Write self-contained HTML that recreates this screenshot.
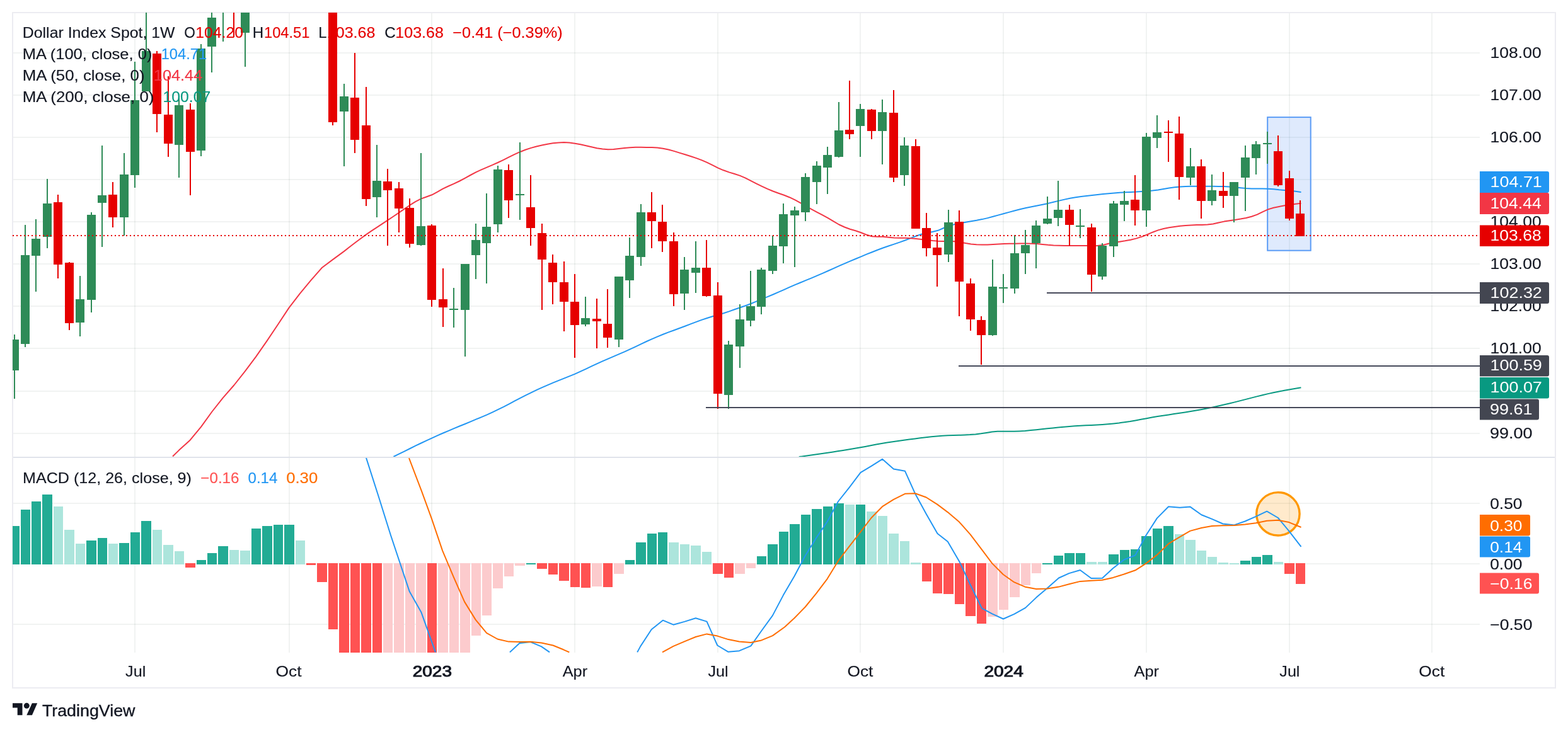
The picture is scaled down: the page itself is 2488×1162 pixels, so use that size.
<!DOCTYPE html>
<html lang="en"><head><meta charset="utf-8"><title>Dollar Index Spot, 1W</title><style>html,body{margin:0;padding:0;background:#fff;width:2488px;height:1162px}svg{display:block}</style></head>
<body>
<svg width="2488" height="1162" viewBox="0 0 2488 1162" font-family="'Liberation Sans', sans-serif" font-size="24">
<defs><clipPath id="p1"><rect x="20" y="20" width="2328" height="705"/></clipPath><clipPath id="p2"><rect x="20" y="727" width="2328" height="309"/></clipPath><clipPath id="ax1"><rect x="2348" y="21" width="119" height="704"/></clipPath></defs>
<rect x="0" y="0" width="2488" height="1162" fill="#ffffff" />
<g shape-rendering="crispEdges">
<rect x="21" y="83" width="2327" height="2" fill="rgba(0,40,20,0.055)" />
<rect x="21" y="150" width="2327" height="2" fill="rgba(0,40,20,0.055)" />
<rect x="21" y="217" width="2327" height="2" fill="rgba(0,40,20,0.055)" />
<rect x="21" y="284" width="2327" height="2" fill="rgba(0,40,20,0.055)" />
<rect x="21" y="351" width="2327" height="2" fill="rgba(0,40,20,0.055)" />
<rect x="21" y="418" width="2327" height="2" fill="rgba(0,40,20,0.055)" />
<rect x="21" y="485" width="2327" height="2" fill="rgba(0,40,20,0.055)" />
<rect x="21" y="552" width="2327" height="2" fill="rgba(0,40,20,0.055)" />
<rect x="21" y="620" width="2327" height="2" fill="rgba(0,40,20,0.055)" />
<rect x="21" y="687" width="2327" height="2" fill="rgba(0,40,20,0.055)" />
<rect x="21" y="798" width="2327" height="2" fill="rgba(0,40,20,0.055)" />
<rect x="21" y="894" width="2327" height="2" fill="rgba(0,40,20,0.055)" />
<rect x="21" y="990" width="2327" height="2" fill="rgba(0,40,20,0.055)" />
<rect x="213" y="21" width="2" height="1015" fill="rgba(0,40,20,0.055)" />
<rect x="458" y="21" width="2" height="1015" fill="rgba(0,40,20,0.055)" />
<rect x="684" y="21" width="2" height="1015" fill="rgba(0,40,20,0.055)" />
<rect x="911" y="21" width="2" height="1015" fill="rgba(0,40,20,0.055)" />
<rect x="1138" y="21" width="2" height="1015" fill="rgba(0,40,20,0.055)" />
<rect x="1364" y="21" width="2" height="1015" fill="rgba(0,40,20,0.055)" />
<rect x="1591" y="21" width="2" height="1015" fill="rgba(0,40,20,0.055)" />
<rect x="1818" y="21" width="2" height="1015" fill="rgba(0,40,20,0.055)" />
<rect x="2045" y="21" width="2" height="1015" fill="rgba(0,40,20,0.055)" />
<rect x="2271" y="21" width="2" height="1015" fill="rgba(0,40,20,0.055)" />
<rect x="20" y="725" width="2447" height="2" fill="#e0e3eb" />
<rect x="19" y="19" width="2450" height="2" fill="#ececf1" />
<rect x="19" y="1091" width="2450" height="2" fill="#ececf1" />
<rect x="19" y="19" width="2" height="1074" fill="#ececf1" />
<rect x="2467" y="19" width="2" height="1074" fill="#ececf1" />
</g>
<g clip-path="url(#p1)">
<rect x="2011.2" y="186.1" width="68.5" height="211.6" fill="rgba(66,133,244,0.17)" stroke="#5b9cf6" stroke-width="2"/>
<polyline points="1267.7,725.2 1276.5,724.0 1285.2,722.8 1294.0,721.5 1302.7,720.3 1311.5,719.0 1320.2,717.7 1329.0,716.3 1337.7,714.9 1346.5,713.5 1355.2,712.0 1364.0,710.5 1372.8,708.9 1381.5,707.2 1390.3,705.6 1399.0,704.1 1407.8,702.6 1416.5,701.3 1425.3,700.0 1434.0,698.7 1442.8,697.6 1451.6,696.4 1460.3,695.3 1469.1,694.3 1477.8,693.3 1486.6,692.5 1495.3,691.8 1504.1,691.3 1512.8,691.0 1521.6,690.8 1530.3,690.5 1539.1,690.1 1547.9,689.4 1556.6,688.3 1565.4,686.9 1574.1,685.6 1582.9,684.8 1591.6,684.7 1600.4,684.8 1609.1,684.8 1617.9,684.4 1626.7,683.9 1635.4,683.1 1644.2,682.2 1652.9,681.2 1661.7,680.3 1670.4,679.4 1679.2,678.5 1687.9,677.7 1696.7,677.0 1705.4,676.3 1714.2,675.8 1723.0,675.3 1731.7,674.9 1740.5,674.4 1749.2,673.9 1758.0,673.2 1766.7,672.4 1775.5,671.4 1784.2,670.2 1793.0,668.9 1801.8,667.4 1810.5,665.8 1819.3,664.2 1828.0,662.6 1836.8,661.1 1845.5,659.8 1854.3,658.4 1863.0,657.1 1871.8,655.8 1880.5,654.4 1889.3,652.9 1898.1,651.4 1906.8,649.9 1915.6,648.2 1924.3,646.4 1933.1,644.5 1941.8,642.6 1950.6,640.5 1959.3,638.4 1968.1,636.1 1976.9,633.9 1985.6,631.6 1994.4,629.4 2003.1,627.2 2011.9,625.1 2020.6,623.2 2029.4,621.5 2038.1,619.8 2046.9,618.3 2055.6,616.8 2064.4,615.3" fill="none" stroke="#089981" stroke-width="2" stroke-linejoin="round" stroke-linecap="butt" />
<polyline points="624.4,725.0 633.1,720.6 641.9,716.3 650.6,712.0 659.3,707.7 668.0,703.5 676.8,699.4 685.5,695.3 694.2,691.4 703.0,687.5 711.7,683.8 720.4,680.1 729.1,676.5 737.9,673.0 746.6,669.4 755.3,665.7 764.0,662.1 772.8,658.3 781.5,654.3 790.2,650.2 799.0,645.9 807.7,641.4 816.4,636.7 825.1,632.1 833.9,627.6 842.6,623.3 851.3,619.2 860.1,615.2 868.8,611.4 877.5,607.7 886.2,604.1 895.0,600.6 903.7,597.1 912.4,593.6 921.1,589.7 929.9,585.6 938.6,581.4 947.3,577.3 956.1,573.4 964.8,569.6 973.5,565.9 982.2,562.2 991.0,558.4 999.7,554.4 1008.4,550.3 1017.2,546.1 1025.9,542.0 1034.6,538.1 1043.3,534.4 1052.1,530.8 1060.8,527.4 1069.5,524.2 1078.2,521.0 1087.0,517.7 1095.7,514.4 1104.4,511.1 1113.2,507.9 1121.9,505.0 1130.6,502.3 1139.3,499.8 1148.1,497.2 1156.8,494.4 1165.5,491.3 1174.3,488.2 1183.0,485.2 1191.7,482.0 1200.4,478.4 1209.2,474.7 1217.9,471.1 1226.6,467.5 1235.4,463.7 1244.1,459.8 1252.8,455.9 1261.5,452.1 1270.3,448.5 1279.0,444.9 1287.7,441.3 1296.4,437.7 1305.2,433.9 1313.9,430.0 1322.6,426.1 1331.4,422.2 1340.1,418.4 1348.8,414.7 1357.5,411.0 1366.3,407.4 1375.0,403.7 1383.7,400.2 1392.5,396.7 1401.2,393.5 1409.9,390.5 1418.6,387.6 1427.4,384.6 1436.1,381.5 1444.8,378.1 1453.5,374.7 1462.3,371.8 1471.0,369.6 1479.7,368.0 1488.5,365.8 1497.2,362.0 1505.9,358.6 1514.6,356.1 1523.4,354.3 1532.1,352.8 1540.8,351.3 1549.6,349.8 1558.3,348.1 1567.0,346.1 1575.7,343.8 1584.5,341.4 1593.2,339.0 1601.9,336.6 1610.7,334.2 1619.4,332.0 1628.1,330.0 1636.8,328.2 1645.6,326.5 1654.3,324.8 1663.0,322.9 1671.7,320.7 1680.5,318.6 1689.2,316.6 1697.9,314.8 1706.7,313.3 1715.4,312.0 1724.1,311.0 1732.8,310.0 1741.6,309.1 1750.3,308.1 1759.0,307.2 1767.8,306.4 1776.5,305.8 1785.2,305.2 1793.9,304.9 1802.7,304.6 1811.4,304.1 1820.1,303.5 1828.8,302.6 1837.6,301.4 1846.3,299.9 1855.0,298.4 1863.8,297.3 1872.5,296.5 1881.2,296.0 1889.9,295.8 1898.7,295.7 1907.4,295.7 1916.1,295.8 1924.9,295.8 1933.6,295.9 1942.3,296.0 1951.0,296.4 1959.8,297.2 1968.5,298.2 1977.2,299.1 1985.9,299.5 1994.7,299.6 2003.4,299.5 2012.1,299.7 2020.9,300.3 2029.6,301.2 2038.3,301.9 2047.0,302.7 2055.8,303.8 2064.5,305.0" fill="none" stroke="#2196f3" stroke-width="2" stroke-linejoin="round" stroke-linecap="butt" />
<polyline points="274.0,724.5 284.1,714.6 301.6,698.7 319.0,677.7 336.4,653.5 353.9,631.4 371.3,611.5 388.8,589.4 406.2,566.1 423.6,541.1 441.1,515.0 458.5,488.6 476.0,465.9 493.4,444.9 510.8,425.0 528.3,411.9 545.7,399.1 554.4,392.3 563.2,385.5 571.9,379.0 580.6,372.6 589.3,366.6 598.1,360.8 606.8,355.1 615.5,349.4 624.3,343.5 633.0,337.6 641.7,331.7 650.4,325.7 659.2,320.1 667.9,315.6 676.6,312.5 685.4,309.3 694.1,304.6 702.8,299.6 711.5,295.5 720.3,291.7 729.0,287.5 737.7,282.8 746.5,278.0 755.2,273.4 763.9,269.3 772.6,265.6 781.4,261.9 790.1,258.0 798.8,253.8 807.6,249.4 816.3,245.1 825.0,241.2 833.7,237.8 842.5,234.9 851.2,232.5 859.9,230.5 868.7,228.7 877.4,227.3 886.1,226.4 894.8,226.1 903.6,226.6 912.3,227.7 921.0,229.3 929.8,231.2 938.5,233.3 947.2,235.2 956.0,236.6 964.7,237.2 973.4,237.0 982.1,236.1 990.9,235.1 999.6,234.2 1008.3,233.8 1017.1,233.8 1025.8,233.9 1034.5,234.1 1043.2,234.6 1052.0,235.7 1060.7,237.5 1069.4,239.9 1078.2,242.6 1086.9,245.3 1095.6,248.0 1104.3,250.9 1113.1,254.1 1121.8,257.9 1130.5,262.2 1139.3,266.6 1148.0,270.3 1156.7,273.4 1165.4,276.0 1174.2,278.9 1182.9,282.7 1191.6,287.1 1200.4,291.6 1209.1,295.8 1217.8,299.9 1226.5,303.5 1235.3,306.7 1244.0,309.8 1252.7,313.2 1261.5,317.3 1270.2,322.1 1278.9,327.3 1287.6,332.2 1296.4,336.9 1305.1,341.4 1313.8,346.2 1322.6,351.4 1331.3,356.5 1340.0,360.5 1348.7,363.7 1357.5,366.3 1366.2,369.3 1374.9,372.8 1383.7,375.3 1392.4,375.8 1401.1,375.8 1409.8,376.7 1418.6,377.5 1427.3,377.7 1436.0,377.7 1444.8,378.2 1453.5,379.0 1462.2,379.9 1470.9,381.0 1479.7,382.1 1488.4,382.8 1497.1,382.9 1505.9,382.8 1514.6,383.2 1523.3,384.5 1532.0,386.1 1540.8,387.5 1549.5,388.3 1558.2,388.6 1567.0,388.5 1575.7,388.1 1584.4,387.6 1593.1,387.1 1601.9,386.8 1610.6,386.7 1619.3,386.6 1628.1,386.6 1636.8,386.7 1645.5,387.1 1654.2,387.9 1663.0,388.8 1671.7,389.4 1680.4,389.7 1689.2,389.9 1697.9,390.0 1706.6,390.0 1715.4,390.1 1724.1,390.1 1732.8,390.2 1741.5,390.1 1750.3,389.0 1759.0,386.7 1767.7,385.0 1776.5,383.7 1785.2,382.3 1793.9,380.7 1802.6,378.6 1811.4,375.9 1820.1,372.5 1828.8,368.7 1837.6,365.4 1846.3,363.0 1855.0,361.3 1863.7,359.9 1872.5,358.7 1881.2,358.0 1889.9,357.4 1898.7,357.1 1907.4,356.9 1916.1,356.6 1924.8,355.6 1933.6,353.6 1942.3,351.6 1951.0,350.2 1959.8,349.0 1968.5,347.6 1977.2,346.0 1985.9,343.8 1994.7,340.6 2003.4,336.3 2012.1,332.4 2020.9,329.7 2029.6,327.9 2038.3,326.3 2047.0,324.9 2055.8,323.8 2064.5,322.7" fill="none" stroke="#f23645" stroke-width="2" stroke-linejoin="round" stroke-linecap="butt" />
<g shape-rendering="crispEdges">
<rect x="22" y="531" width="2" height="102" fill="#2e8b57" />
<rect x="20" y="539" width="10" height="49" fill="#2e8b57" />
<rect x="39" y="357" width="2" height="194" fill="#2e8b57" />
<rect x="33" y="405" width="14" height="141" fill="#2e8b57" />
<rect x="56" y="348" width="2" height="115" fill="#2e8b57" />
<rect x="50" y="379" width="14" height="27" fill="#2e8b57" />
<rect x="74" y="284" width="2" height="110" fill="#2e8b57" />
<rect x="68" y="323" width="14" height="53" fill="#2e8b57" />
<rect x="91" y="309" width="2" height="133" fill="#e60000" />
<rect x="85" y="321" width="14" height="99" fill="#e60000" />
<rect x="109" y="416" width="2" height="108" fill="#e60000" />
<rect x="103" y="417" width="14" height="96" fill="#e60000" />
<rect x="126" y="438" width="2" height="96" fill="#2e8b57" />
<rect x="120" y="475" width="14" height="37" fill="#2e8b57" />
<rect x="144" y="337" width="2" height="159" fill="#2e8b57" />
<rect x="138" y="341" width="14" height="135" fill="#2e8b57" />
<rect x="161" y="231" width="2" height="161" fill="#2e8b57" />
<rect x="155" y="310" width="14" height="12" fill="#2e8b57" />
<rect x="178" y="289" width="2" height="72" fill="#e60000" />
<rect x="172" y="309" width="14" height="36" fill="#e60000" />
<rect x="196" y="243" width="2" height="131" fill="#2e8b57" />
<rect x="190" y="277" width="14" height="68" fill="#2e8b57" />
<rect x="213" y="98" width="2" height="200" fill="#2e8b57" />
<rect x="207" y="159" width="14" height="119" fill="#2e8b57" />
<rect x="231" y="0" width="2" height="145" fill="#2e8b57" />
<rect x="225" y="81" width="14" height="64" fill="#2e8b57" />
<rect x="248" y="81" width="2" height="129" fill="#e60000" />
<rect x="242" y="85" width="14" height="96" fill="#e60000" />
<rect x="266" y="121" width="2" height="128" fill="#e60000" />
<rect x="260" y="182" width="14" height="46" fill="#e60000" />
<rect x="283" y="155" width="2" height="127" fill="#2e8b57" />
<rect x="277" y="167" width="14" height="63" fill="#2e8b57" />
<rect x="301" y="164" width="2" height="146" fill="#e60000" />
<rect x="295" y="174" width="14" height="67" fill="#e60000" />
<rect x="318" y="70" width="2" height="178" fill="#2e8b57" />
<rect x="312" y="77" width="14" height="162" fill="#2e8b57" />
<rect x="335" y="0" width="2" height="115" fill="#2e8b57" />
<rect x="329" y="28" width="14" height="46" fill="#2e8b57" />
<rect x="353" y="0" width="2" height="66" fill="#2e8b57" />
<rect x="347" y="0" width="14" height="2" fill="#2e8b57" />
<rect x="370" y="0" width="2" height="59" fill="#e60000" />
<rect x="364" y="0" width="14" height="2" fill="#e60000" />
<rect x="388" y="0" width="2" height="106" fill="#2e8b57" />
<rect x="382" y="0" width="14" height="52" fill="#2e8b57" />
<rect x="527" y="0" width="2" height="199" fill="#e60000" />
<rect x="521" y="0" width="14" height="194" fill="#e60000" />
<rect x="545" y="133" width="2" height="131" fill="#2e8b57" />
<rect x="539" y="153" width="14" height="24" fill="#2e8b57" />
<rect x="562" y="84" width="2" height="159" fill="#e60000" />
<rect x="556" y="155" width="14" height="67" fill="#e60000" />
<rect x="580" y="138" width="2" height="189" fill="#e60000" />
<rect x="574" y="199" width="14" height="117" fill="#e60000" />
<rect x="597" y="230" width="2" height="115" fill="#2e8b57" />
<rect x="591" y="287" width="14" height="26" fill="#2e8b57" />
<rect x="614" y="268" width="2" height="122" fill="#e60000" />
<rect x="608" y="288" width="14" height="14" fill="#e60000" />
<rect x="632" y="289" width="2" height="80" fill="#e60000" />
<rect x="626" y="299" width="14" height="32" fill="#e60000" />
<rect x="649" y="315" width="2" height="78" fill="#e60000" />
<rect x="643" y="330" width="14" height="57" fill="#e60000" />
<rect x="667" y="243" width="2" height="147" fill="#2e8b57" />
<rect x="661" y="359" width="14" height="30" fill="#2e8b57" />
<rect x="684" y="356" width="2" height="131" fill="#e60000" />
<rect x="678" y="358" width="14" height="118" fill="#e60000" />
<rect x="702" y="426" width="2" height="93" fill="#e60000" />
<rect x="696" y="475" width="14" height="13" fill="#e60000" />
<rect x="719" y="457" width="2" height="63" fill="#2e8b57" />
<rect x="713" y="490" width="14" height="2" fill="#2e8b57" />
<rect x="737" y="419" width="2" height="147" fill="#2e8b57" />
<rect x="731" y="419" width="14" height="73" fill="#2e8b57" />
<rect x="754" y="355" width="2" height="88" fill="#2e8b57" />
<rect x="748" y="381" width="14" height="24" fill="#2e8b57" />
<rect x="771" y="307" width="2" height="143" fill="#2e8b57" />
<rect x="765" y="360" width="14" height="26" fill="#2e8b57" />
<rect x="789" y="263" width="2" height="106" fill="#2e8b57" />
<rect x="783" y="269" width="14" height="87" fill="#2e8b57" />
<rect x="806" y="261" width="2" height="85" fill="#e60000" />
<rect x="800" y="270" width="14" height="48" fill="#e60000" />
<rect x="824" y="226" width="2" height="123" fill="#2e8b57" />
<rect x="818" y="308" width="14" height="2" fill="#2e8b57" />
<rect x="841" y="278" width="2" height="112" fill="#e60000" />
<rect x="835" y="329" width="14" height="33" fill="#e60000" />
<rect x="859" y="355" width="2" height="137" fill="#e60000" />
<rect x="853" y="370" width="14" height="42" fill="#e60000" />
<rect x="876" y="404" width="2" height="79" fill="#e60000" />
<rect x="870" y="417" width="14" height="31" fill="#e60000" />
<rect x="894" y="415" width="2" height="111" fill="#e60000" />
<rect x="888" y="448" width="14" height="31" fill="#e60000" />
<rect x="911" y="435" width="2" height="133" fill="#e60000" />
<rect x="905" y="479" width="14" height="37" fill="#e60000" />
<rect x="928" y="471" width="2" height="47" fill="#2e8b57" />
<rect x="922" y="505" width="14" height="10" fill="#2e8b57" />
<rect x="946" y="474" width="2" height="79" fill="#e60000" />
<rect x="940" y="506" width="14" height="4" fill="#e60000" />
<rect x="963" y="459" width="2" height="93" fill="#e60000" />
<rect x="957" y="514" width="14" height="22" fill="#e60000" />
<rect x="981" y="439" width="2" height="112" fill="#2e8b57" />
<rect x="975" y="439" width="14" height="100" fill="#2e8b57" />
<rect x="998" y="377" width="2" height="96" fill="#2e8b57" />
<rect x="992" y="406" width="14" height="39" fill="#2e8b57" />
<rect x="1016" y="324" width="2" height="98" fill="#2e8b57" />
<rect x="1010" y="337" width="14" height="71" fill="#2e8b57" />
<rect x="1033" y="305" width="2" height="89" fill="#e60000" />
<rect x="1027" y="337" width="14" height="14" fill="#e60000" />
<rect x="1050" y="325" width="2" height="75" fill="#e60000" />
<rect x="1044" y="352" width="14" height="31" fill="#e60000" />
<rect x="1068" y="369" width="2" height="117" fill="#e60000" />
<rect x="1062" y="383" width="14" height="84" fill="#e60000" />
<rect x="1085" y="408" width="2" height="84" fill="#2e8b57" />
<rect x="1079" y="428" width="14" height="38" fill="#2e8b57" />
<rect x="1103" y="383" width="2" height="82" fill="#2e8b57" />
<rect x="1097" y="425" width="14" height="8" fill="#2e8b57" />
<rect x="1120" y="381" width="2" height="90" fill="#e60000" />
<rect x="1114" y="425" width="14" height="45" fill="#e60000" />
<rect x="1138" y="448" width="2" height="201" fill="#e60000" />
<rect x="1132" y="469" width="14" height="156" fill="#e60000" />
<rect x="1155" y="541" width="2" height="108" fill="#2e8b57" />
<rect x="1149" y="547" width="14" height="80" fill="#2e8b57" />
<rect x="1173" y="483" width="2" height="101" fill="#2e8b57" />
<rect x="1167" y="507" width="14" height="43" fill="#2e8b57" />
<rect x="1190" y="430" width="2" height="88" fill="#2e8b57" />
<rect x="1184" y="486" width="14" height="23" fill="#2e8b57" />
<rect x="1207" y="425" width="2" height="74" fill="#2e8b57" />
<rect x="1201" y="428" width="14" height="59" fill="#2e8b57" />
<rect x="1225" y="374" width="2" height="61" fill="#2e8b57" />
<rect x="1219" y="390" width="14" height="40" fill="#2e8b57" />
<rect x="1242" y="323" width="2" height="95" fill="#2e8b57" />
<rect x="1236" y="340" width="14" height="51" fill="#2e8b57" />
<rect x="1260" y="328" width="2" height="96" fill="#2e8b57" />
<rect x="1254" y="334" width="14" height="8" fill="#2e8b57" />
<rect x="1277" y="275" width="2" height="76" fill="#2e8b57" />
<rect x="1271" y="281" width="14" height="56" fill="#2e8b57" />
<rect x="1295" y="256" width="2" height="68" fill="#2e8b57" />
<rect x="1289" y="263" width="14" height="26" fill="#2e8b57" />
<rect x="1312" y="233" width="2" height="75" fill="#2e8b57" />
<rect x="1306" y="246" width="14" height="20" fill="#2e8b57" />
<rect x="1330" y="162" width="2" height="88" fill="#2e8b57" />
<rect x="1324" y="207" width="14" height="42" fill="#2e8b57" />
<rect x="1347" y="128" width="2" height="93" fill="#e60000" />
<rect x="1341" y="206" width="14" height="7" fill="#e60000" />
<rect x="1364" y="165" width="2" height="84" fill="#2e8b57" />
<rect x="1358" y="173" width="14" height="27" fill="#2e8b57" />
<rect x="1382" y="173" width="2" height="48" fill="#e60000" />
<rect x="1376" y="174" width="14" height="34" fill="#e60000" />
<rect x="1399" y="158" width="2" height="103" fill="#2e8b57" />
<rect x="1393" y="178" width="14" height="30" fill="#2e8b57" />
<rect x="1417" y="143" width="2" height="146" fill="#e60000" />
<rect x="1411" y="179" width="14" height="103" fill="#e60000" />
<rect x="1434" y="218" width="2" height="77" fill="#2e8b57" />
<rect x="1428" y="231" width="14" height="47" fill="#2e8b57" />
<rect x="1452" y="221" width="2" height="142" fill="#e60000" />
<rect x="1446" y="232" width="14" height="131" fill="#e60000" />
<rect x="1469" y="338" width="2" height="69" fill="#e60000" />
<rect x="1463" y="362" width="14" height="32" fill="#e60000" />
<rect x="1486" y="370" width="2" height="85" fill="#e60000" />
<rect x="1480" y="393" width="14" height="12" fill="#e60000" />
<rect x="1504" y="333" width="2" height="83" fill="#2e8b57" />
<rect x="1498" y="353" width="14" height="51" fill="#2e8b57" />
<rect x="1521" y="334" width="2" height="168" fill="#e60000" />
<rect x="1515" y="352" width="14" height="95" fill="#e60000" />
<rect x="1539" y="442" width="2" height="83" fill="#e60000" />
<rect x="1533" y="450" width="14" height="57" fill="#e60000" />
<rect x="1556" y="502" width="2" height="77" fill="#e60000" />
<rect x="1550" y="508" width="14" height="24" fill="#e60000" />
<rect x="1574" y="412" width="2" height="121" fill="#2e8b57" />
<rect x="1568" y="455" width="14" height="77" fill="#2e8b57" />
<rect x="1591" y="435" width="2" height="46" fill="#2e8b57" />
<rect x="1585" y="456" width="14" height="2" fill="#2e8b57" />
<rect x="1609" y="373" width="2" height="93" fill="#2e8b57" />
<rect x="1603" y="402" width="14" height="56" fill="#2e8b57" />
<rect x="1626" y="365" width="2" height="70" fill="#2e8b57" />
<rect x="1620" y="389" width="14" height="13" fill="#2e8b57" />
<rect x="1643" y="350" width="2" height="76" fill="#2e8b57" />
<rect x="1637" y="358" width="14" height="28" fill="#2e8b57" />
<rect x="1661" y="312" width="2" height="44" fill="#2e8b57" />
<rect x="1655" y="347" width="14" height="8" fill="#2e8b57" />
<rect x="1678" y="287" width="2" height="72" fill="#2e8b57" />
<rect x="1672" y="333" width="14" height="13" fill="#2e8b57" />
<rect x="1696" y="325" width="2" height="65" fill="#e60000" />
<rect x="1690" y="333" width="14" height="24" fill="#e60000" />
<rect x="1713" y="332" width="2" height="46" fill="#2e8b57" />
<rect x="1707" y="358" width="14" height="2" fill="#2e8b57" />
<rect x="1731" y="355" width="2" height="108" fill="#e60000" />
<rect x="1725" y="361" width="14" height="75" fill="#e60000" />
<rect x="1748" y="386" width="2" height="58" fill="#2e8b57" />
<rect x="1742" y="390" width="14" height="49" fill="#2e8b57" />
<rect x="1766" y="319" width="2" height="89" fill="#2e8b57" />
<rect x="1760" y="323" width="14" height="68" fill="#2e8b57" />
<rect x="1783" y="303" width="2" height="48" fill="#2e8b57" />
<rect x="1777" y="319" width="14" height="6" fill="#2e8b57" />
<rect x="1800" y="278" width="2" height="80" fill="#e60000" />
<rect x="1794" y="317" width="14" height="17" fill="#e60000" />
<rect x="1818" y="211" width="2" height="149" fill="#2e8b57" />
<rect x="1812" y="217" width="14" height="117" fill="#2e8b57" />
<rect x="1835" y="183" width="2" height="52" fill="#2e8b57" />
<rect x="1829" y="210" width="14" height="9" fill="#2e8b57" />
<rect x="1853" y="191" width="2" height="66" fill="#e60000" />
<rect x="1847" y="209" width="14" height="2" fill="#e60000" />
<rect x="1870" y="185" width="2" height="132" fill="#e60000" />
<rect x="1864" y="212" width="14" height="69" fill="#e60000" />
<rect x="1888" y="235" width="2" height="59" fill="#2e8b57" />
<rect x="1882" y="264" width="14" height="18" fill="#2e8b57" />
<rect x="1905" y="253" width="2" height="94" fill="#e60000" />
<rect x="1899" y="264" width="14" height="55" fill="#e60000" />
<rect x="1922" y="277" width="2" height="49" fill="#2e8b57" />
<rect x="1916" y="302" width="14" height="17" fill="#2e8b57" />
<rect x="1940" y="273" width="2" height="57" fill="#e60000" />
<rect x="1934" y="303" width="14" height="8" fill="#e60000" />
<rect x="1957" y="289" width="2" height="64" fill="#2e8b57" />
<rect x="1951" y="289" width="14" height="22" fill="#2e8b57" />
<rect x="1975" y="231" width="2" height="104" fill="#2e8b57" />
<rect x="1969" y="250" width="14" height="32" fill="#2e8b57" />
<rect x="1992" y="224" width="2" height="53" fill="#2e8b57" />
<rect x="1986" y="229" width="14" height="22" fill="#2e8b57" />
<rect x="2010" y="209" width="2" height="51" fill="#2e8b57" />
<rect x="2004" y="227" width="14" height="2" fill="#2e8b57" />
<rect x="2027" y="215" width="2" height="81" fill="#e60000" />
<rect x="2021" y="240" width="14" height="54" fill="#e60000" />
<rect x="2045" y="271" width="2" height="79" fill="#e60000" />
<rect x="2039" y="283" width="14" height="64" fill="#e60000" />
<rect x="2062" y="318" width="2" height="57" fill="#e60000" />
<rect x="2056" y="339" width="14" height="36" fill="#e60000" />
</g>
<line x1="20" y1="374" x2="2346" y2="374" stroke="#e60000" stroke-width="2" stroke-dasharray="2 4" shape-rendering="crispEdges"/>
<line x1="1120" y1="647" x2="2348" y2="647" stroke="#454859" stroke-width="2" shape-rendering="crispEdges"/>
<line x1="1661" y1="465" x2="2348" y2="465" stroke="#454859" stroke-width="2" shape-rendering="crispEdges"/>
<line x1="1521" y1="581" x2="2348" y2="581" stroke="#454859" stroke-width="2" shape-rendering="crispEdges"/>
</g>
<g clip-path="url(#p2)">
<g shape-rendering="crispEdges">
<rect x="20" y="835" width="11" height="61" fill="#22ab94" />
<rect x="33" y="809" width="15" height="87" fill="#22ab94" />
<rect x="50" y="796" width="15" height="100" fill="#22ab94" />
<rect x="67" y="785" width="16" height="111" fill="#22ab94" />
<rect x="85" y="804" width="15" height="92" fill="#ace5dc" />
<rect x="102" y="841" width="16" height="55" fill="#ace5dc" />
<rect x="120" y="863" width="15" height="33" fill="#ace5dc" />
<rect x="137" y="858" width="16" height="38" fill="#22ab94" />
<rect x="155" y="854" width="15" height="42" fill="#22ab94" />
<rect x="172" y="863" width="15" height="33" fill="#ace5dc" />
<rect x="189" y="862" width="16" height="34" fill="#22ab94" />
<rect x="207" y="845" width="15" height="51" fill="#22ab94" />
<rect x="224" y="827" width="16" height="69" fill="#22ab94" />
<rect x="242" y="841" width="15" height="55" fill="#ace5dc" />
<rect x="259" y="865" width="16" height="31" fill="#ace5dc" />
<rect x="277" y="875" width="15" height="21" fill="#ace5dc" />
<rect x="294" y="894" width="16" height="7" fill="#ff5252" />
<rect x="312" y="889" width="15" height="7" fill="#22ab94" />
<rect x="329" y="878" width="15" height="18" fill="#22ab94" />
<rect x="346" y="867" width="16" height="29" fill="#22ab94" />
<rect x="364" y="873" width="15" height="23" fill="#ace5dc" />
<rect x="381" y="874" width="16" height="22" fill="#ace5dc" />
<rect x="399" y="839" width="15" height="57" fill="#22ab94" />
<rect x="416" y="835" width="16" height="61" fill="#22ab94" />
<rect x="434" y="833" width="15" height="63" fill="#22ab94" />
<rect x="451" y="833" width="16" height="63" fill="#22ab94" />
<rect x="469" y="858" width="15" height="38" fill="#ace5dc" />
<rect x="486" y="894" width="15" height="3" fill="#ff5252" />
<rect x="503" y="894" width="16" height="30" fill="#ff5252" />
<rect x="521" y="894" width="15" height="105" fill="#ff5252" />
<rect x="538" y="894" width="16" height="206" fill="#ff5252" />
<rect x="556" y="894" width="15" height="206" fill="#ff5252" />
<rect x="573" y="894" width="16" height="206" fill="#ff5252" />
<rect x="591" y="894" width="15" height="206" fill="#ff5252" />
<rect x="608" y="894" width="15" height="206" fill="#fccbcd" />
<rect x="625" y="894" width="16" height="206" fill="#fccbcd" />
<rect x="643" y="894" width="15" height="206" fill="#fccbcd" />
<rect x="660" y="894" width="16" height="206" fill="#fccbcd" />
<rect x="678" y="894" width="15" height="206" fill="#ff5252" />
<rect x="695" y="894" width="16" height="206" fill="#fccbcd" />
<rect x="713" y="894" width="15" height="206" fill="#fccbcd" />
<rect x="730" y="894" width="16" height="206" fill="#fccbcd" />
<rect x="748" y="894" width="15" height="115" fill="#fccbcd" />
<rect x="765" y="894" width="15" height="83" fill="#fccbcd" />
<rect x="782" y="894" width="16" height="40" fill="#fccbcd" />
<rect x="800" y="894" width="15" height="21" fill="#fccbcd" />
<rect x="817" y="894" width="16" height="4" fill="#fccbcd" />
<rect x="835" y="894" width="15" height="2" fill="#22ab94" />
<rect x="852" y="894" width="16" height="9" fill="#ff5252" />
<rect x="870" y="894" width="15" height="18" fill="#ff5252" />
<rect x="887" y="894" width="16" height="28" fill="#ff5252" />
<rect x="905" y="894" width="15" height="38" fill="#ff5252" />
<rect x="922" y="894" width="15" height="39" fill="#ff5252" />
<rect x="939" y="894" width="16" height="37" fill="#fccbcd" />
<rect x="957" y="894" width="15" height="38" fill="#ff5252" />
<rect x="974" y="894" width="16" height="17" fill="#fccbcd" />
<rect x="992" y="889" width="15" height="7" fill="#22ab94" />
<rect x="1009" y="861" width="16" height="35" fill="#22ab94" />
<rect x="1027" y="847" width="15" height="49" fill="#22ab94" />
<rect x="1044" y="845" width="15" height="51" fill="#22ab94" />
<rect x="1061" y="861" width="16" height="35" fill="#ace5dc" />
<rect x="1079" y="864" width="15" height="32" fill="#ace5dc" />
<rect x="1096" y="866" width="16" height="30" fill="#ace5dc" />
<rect x="1114" y="876" width="15" height="20" fill="#ace5dc" />
<rect x="1131" y="894" width="16" height="17" fill="#ff5252" />
<rect x="1149" y="894" width="15" height="23" fill="#ff5252" />
<rect x="1166" y="894" width="16" height="17" fill="#fccbcd" />
<rect x="1184" y="894" width="15" height="8" fill="#fccbcd" />
<rect x="1201" y="883" width="15" height="13" fill="#22ab94" />
<rect x="1218" y="864" width="16" height="32" fill="#22ab94" />
<rect x="1236" y="844" width="15" height="52" fill="#22ab94" />
<rect x="1253" y="832" width="16" height="64" fill="#22ab94" />
<rect x="1271" y="817" width="15" height="79" fill="#22ab94" />
<rect x="1288" y="808" width="16" height="88" fill="#22ab94" />
<rect x="1306" y="804" width="15" height="92" fill="#22ab94" />
<rect x="1323" y="799" width="16" height="97" fill="#22ab94" />
<rect x="1341" y="801" width="15" height="95" fill="#ace5dc" />
<rect x="1358" y="801" width="15" height="95" fill="#22ab94" />
<rect x="1375" y="812" width="16" height="84" fill="#ace5dc" />
<rect x="1393" y="819" width="15" height="77" fill="#ace5dc" />
<rect x="1410" y="847" width="16" height="49" fill="#ace5dc" />
<rect x="1428" y="859" width="15" height="37" fill="#ace5dc" />
<rect x="1445" y="893" width="16" height="3" fill="#ace5dc" />
<rect x="1463" y="894" width="15" height="29" fill="#ff5252" />
<rect x="1480" y="894" width="15" height="48" fill="#ff5252" />
<rect x="1497" y="894" width="16" height="49" fill="#ff5252" />
<rect x="1515" y="894" width="15" height="65" fill="#ff5252" />
<rect x="1532" y="894" width="16" height="84" fill="#ff5252" />
<rect x="1550" y="894" width="15" height="96" fill="#ff5252" />
<rect x="1567" y="894" width="16" height="85" fill="#fccbcd" />
<rect x="1585" y="894" width="15" height="74" fill="#fccbcd" />
<rect x="1602" y="894" width="16" height="54" fill="#fccbcd" />
<rect x="1620" y="894" width="15" height="35" fill="#fccbcd" />
<rect x="1637" y="894" width="15" height="16" fill="#fccbcd" />
<rect x="1654" y="894" width="16" height="2" fill="#22ab94" />
<rect x="1672" y="882" width="15" height="14" fill="#22ab94" />
<rect x="1689" y="878" width="16" height="18" fill="#22ab94" />
<rect x="1707" y="878" width="15" height="18" fill="#22ab94" />
<rect x="1724" y="892" width="16" height="4" fill="#ace5dc" />
<rect x="1742" y="892" width="15" height="4" fill="#ace5dc" />
<rect x="1759" y="880" width="16" height="16" fill="#22ab94" />
<rect x="1777" y="873" width="15" height="23" fill="#22ab94" />
<rect x="1794" y="872" width="15" height="24" fill="#22ab94" />
<rect x="1811" y="851" width="16" height="45" fill="#22ab94" />
<rect x="1829" y="839" width="15" height="57" fill="#22ab94" />
<rect x="1846" y="835" width="16" height="61" fill="#22ab94" />
<rect x="1864" y="848" width="15" height="48" fill="#ace5dc" />
<rect x="1881" y="857" width="16" height="39" fill="#ace5dc" />
<rect x="1899" y="874" width="15" height="22" fill="#ace5dc" />
<rect x="1916" y="884" width="15" height="12" fill="#ace5dc" />
<rect x="1933" y="893" width="16" height="3" fill="#ace5dc" />
<rect x="1951" y="894" width="15" height="2" fill="#ace5dc" />
<rect x="1968" y="890" width="16" height="6" fill="#22ab94" />
<rect x="1986" y="884" width="15" height="12" fill="#22ab94" />
<rect x="2003" y="881" width="16" height="15" fill="#22ab94" />
<rect x="2021" y="892" width="15" height="4" fill="#ace5dc" />
<rect x="2038" y="894" width="16" height="17" fill="#ff5252" />
<rect x="2056" y="894" width="15" height="33" fill="#ff5252" />
</g>
<circle cx="2027.9" cy="815.8" r="34.2" fill="rgba(255,152,0,0.2)" stroke="#ff9800" stroke-width="3.4"/>
<polyline points="581.0,726.7 600.0,786.0 620.0,849.7 649.8,939.1 668.3,971.7 691.0,1035.4" fill="none" stroke="#2196f3" stroke-width="2" stroke-linejoin="round" stroke-linecap="butt" />
<polyline points="808.9,1035.4 824.4,1021.0 841.8,1019.1 859.1,1026.4 872.1,1035.4" fill="none" stroke="#2196f3" stroke-width="2" stroke-linejoin="round" stroke-linecap="butt" />
<polyline points="1011.2,1035.4 1016.3,1025.9 1033.7,999.3 1051.8,984.7 1068.4,991.7 1086.0,986.9 1103.9,981.2 1121.5,986.6 1138.3,1024.5 1155.6,1034.8 1173.0,1033.2 1191.4,1025.4 1208.2,1001.5 1225.9,977.1 1243.0,944.6 1260.4,914.8 1277.7,882.2 1295.3,853.8 1312.7,828.0 1330.0,796.0 1347.6,773.8 1365.5,750.2 1382.6,739.9 1400.0,728.8 1417.9,744.5 1436.0,747.8 1452.3,784.1 1469.6,815.8 1487.5,847.0 1503.8,859.7 1522.0,890.9 1539.6,928.3 1558.0,965.7 1574.3,974.4 1591.9,982.5 1609.2,974.9 1627.1,964.9 1644.2,948.6 1661.6,933.7 1680.0,917.5 1696.3,910.1 1713.9,905.0 1731.5,918.0 1749.1,917.7 1766.2,902.0 1783.5,888.5 1801.4,881.4 1818.5,849.7 1835.9,822.6 1854.1,804.2 1872.0,805.8 1888.3,804.4 1906.4,817.2 1923.0,823.9 1940.3,831.5 1958.5,833.4 1975.5,827.5 1992.9,819.9 2010.2,811.7 2027.9,822.0 2045.2,842.9 2064.5,867.9" fill="none" stroke="#2196f3" stroke-width="2" stroke-linejoin="round" stroke-linecap="butt" />
<polyline points="649.0,727.2 668.8,779.2 685.1,823.9 702.1,874.1 719.8,916.1 737.1,955.4 754.7,983.9 772.1,1004.8 789.4,1014.5 807.0,1018.6 824.4,1019.1 841.7,1018.8 859.1,1020.5 877.5,1024.5 894.1,1031.3 903.3,1035.4" fill="none" stroke="#ff6d00" stroke-width="2" stroke-linejoin="round" stroke-linecap="butt" />
<polyline points="1051.0,1035.4 1068.4,1025.9 1086.0,1018.3 1103.9,1011.0 1121.5,1006.4 1138.3,1009.6 1155.6,1015.1 1173.0,1018.6 1191.4,1019.9 1208.2,1016.4 1225.9,1009.1 1244.9,995.5 1260.4,981.2 1277.7,963.5 1295.3,941.9 1312.7,918.8 1330.0,890.4 1347.6,867.3 1365.5,844.3 1382.6,822.0 1400.0,804.2 1417.9,792.8 1436.0,783.8 1452.3,783.3 1469.6,789.5 1487.5,800.9 1503.8,813.1 1522.0,828.6 1539.6,848.3 1558.0,872.7 1574.3,894.4 1591.9,912.0 1609.2,924.2 1627.1,931.8 1644.2,935.1 1661.6,934.5 1680.0,931.6 1696.3,927.2 1713.9,922.9 1731.5,921.8 1749.1,920.7 1766.2,916.9 1783.5,911.5 1801.4,905.3 1818.5,894.4 1835.9,880.9 1854.1,863.2 1872.0,852.4 1888.3,842.9 1906.4,838.0 1923.0,835.1 1940.3,834.2 1958.5,834.0 1975.5,832.6 1992.9,830.2 2010.2,826.7 2027.9,825.8 2045.2,829.1 2064.5,837.0" fill="none" stroke="#ff6d00" stroke-width="2" stroke-linejoin="round" stroke-linecap="butt" />
</g>
<text x="35.83" y="60" fill="#131722" textLength="241.72" lengthAdjust="spacingAndGlyphs"  stroke="#131722" stroke-width="0.15">Dollar Index Spot, 1W</text>
<text x="292.26" y="60" fill="#131722" textLength="17.57" lengthAdjust="spacingAndGlyphs"  stroke="#131722" stroke-width="0.15">O</text>
<text x="310.24" y="60" fill="#e60000" textLength="75.78" lengthAdjust="spacingAndGlyphs" font-size="24.8"  stroke="#e60000" stroke-width="0.15">104.20</text>
<text x="400.69" y="60" fill="#131722" textLength="17.47" lengthAdjust="spacingAndGlyphs"  stroke="#131722" stroke-width="0.15">H</text>
<text x="419.03" y="60" fill="#e60000" textLength="72.46" lengthAdjust="spacingAndGlyphs" font-size="24.8"  stroke="#e60000" stroke-width="0.15">104.51</text>
<text x="505.22" y="60" fill="#131722" textLength="13.24" lengthAdjust="spacingAndGlyphs"  stroke="#131722" stroke-width="0.15">L</text>
<text x="518.82" y="60" fill="#e60000" textLength="76.51" lengthAdjust="spacingAndGlyphs" font-size="24.8"  stroke="#e60000" stroke-width="0.15">103.68</text>
<text x="610.29" y="60" fill="#131722" textLength="17.46" lengthAdjust="spacingAndGlyphs"  stroke="#131722" stroke-width="0.15">C</text>
<text x="627.32" y="60" fill="#e60000" textLength="76.51" lengthAdjust="spacingAndGlyphs" font-size="24.8"  stroke="#e60000" stroke-width="0.15">103.68</text>
<text x="718.35" y="60" fill="#e60000" textLength="174.28" lengthAdjust="spacingAndGlyphs" font-size="24.8"  stroke="#e60000" stroke-width="0.15">−0.41 (−0.39%)</text>
<text x="35.77" y="94" fill="#131722" textLength="205.64" lengthAdjust="spacingAndGlyphs"  stroke="#131722" stroke-width="0.15">MA (100, close, 0)</text>
<text x="255.63" y="94" fill="#2196f3" textLength="72.46" lengthAdjust="spacingAndGlyphs" font-size="24.8"  stroke="#2196f3" stroke-width="0.15">104.71</text>
<text x="35.75" y="128" fill="#131722" textLength="193.81" lengthAdjust="spacingAndGlyphs"  stroke="#131722" stroke-width="0.15">MA (50, close, 0)</text>
<text x="243.79" y="128" fill="#f23645" textLength="77.54" lengthAdjust="spacingAndGlyphs" font-size="24.8"  stroke="#f23645" stroke-width="0.15">104.44</text>
<text x="35.74" y="162" fill="#131722" textLength="208.69" lengthAdjust="spacingAndGlyphs"  stroke="#131722" stroke-width="0.15">MA (200, close, 0)</text>
<text x="258.54" y="162" fill="#089981" textLength="75.61" lengthAdjust="spacingAndGlyphs" font-size="24.8"  stroke="#089981" stroke-width="0.15">100.07</text>
<text x="36.01" y="767" fill="#131722" textLength="267.94" lengthAdjust="spacingAndGlyphs"  stroke="#131722" stroke-width="0.15">MACD (12, 26, close, 9)</text>
<text x="318.29" y="767" fill="#ff5252" textLength="61.25" lengthAdjust="spacingAndGlyphs" font-size="24.8"  stroke="#ff5252" stroke-width="0.15">−0.16</text>
<text x="393.5" y="767" fill="#2196f3" textLength="46.82" lengthAdjust="spacingAndGlyphs" font-size="24.8"  stroke="#2196f3" stroke-width="0.15">0.14</text>
<text x="454.23" y="767" fill="#ff6d00" textLength="49.94" lengthAdjust="spacingAndGlyphs" font-size="24.8"  stroke="#ff6d00" stroke-width="0.15">0.30</text>
<g clip-path="url(#ax1)">
<text x="2364.49" y="91.6" fill="#131722" textLength="81.26" lengthAdjust="spacingAndGlyphs" font-size="24.8"  stroke="#131722" stroke-width="0.15">108.00</text>
<text x="2364.49" y="158.6" fill="#131722" textLength="81.26" lengthAdjust="spacingAndGlyphs" font-size="24.8"  stroke="#131722" stroke-width="0.15">107.00</text>
<text x="2364.49" y="225.6" fill="#131722" textLength="81.26" lengthAdjust="spacingAndGlyphs" font-size="24.8"  stroke="#131722" stroke-width="0.15">106.00</text>
<text x="2364.49" y="292.6" fill="#131722" textLength="81.26" lengthAdjust="spacingAndGlyphs" font-size="24.8"  stroke="#131722" stroke-width="0.15">105.00</text>
<text x="2364.49" y="359.6" fill="#131722" textLength="81.26" lengthAdjust="spacingAndGlyphs" font-size="24.8"  stroke="#131722" stroke-width="0.15">104.00</text>
<text x="2364.49" y="427.1" fill="#131722" textLength="81.26" lengthAdjust="spacingAndGlyphs" font-size="24.8"  stroke="#131722" stroke-width="0.15">103.00</text>
<text x="2364.49" y="494.1" fill="#131722" textLength="81.26" lengthAdjust="spacingAndGlyphs" font-size="24.8"  stroke="#131722" stroke-width="0.15">102.00</text>
<text x="2364.49" y="561.1" fill="#131722" textLength="81.26" lengthAdjust="spacingAndGlyphs" font-size="24.8"  stroke="#131722" stroke-width="0.15">101.00</text>
<text x="2364.49" y="628.6" fill="#131722" textLength="81.26" lengthAdjust="spacingAndGlyphs" font-size="24.8"  stroke="#131722" stroke-width="0.15">100.00</text>
<text x="2363.97" y="695.6" fill="#131722" textLength="67.62" lengthAdjust="spacingAndGlyphs" font-size="24.8"  stroke="#131722" stroke-width="0.15">99.00</text>
</g>
<text x="2364.2" y="807.8" fill="#131722" textLength="51.29" lengthAdjust="spacingAndGlyphs" font-size="24.8"  stroke="#131722" stroke-width="0.15">0.50</text>
<text x="2364.2" y="903.8" fill="#131722" textLength="51.29" lengthAdjust="spacingAndGlyphs" font-size="24.8"  stroke="#131722" stroke-width="0.15">0.00</text>
<text x="2364.19" y="999.8" fill="#131722" textLength="67.22" lengthAdjust="spacingAndGlyphs" font-size="24.8"  stroke="#131722" stroke-width="0.15">−0.50</text>
<path d="M2348 272H2455a3 3 0 0 1 3 3V303a3 3 0 0 1 -3 3H2348Z" fill="#2196f3"/><text x="2364.45" y="296.6" fill="#ffffff" textLength="82.42" lengthAdjust="spacingAndGlyphs" font-size="24.8" >104.71</text>
<path d="M2348 306H2455a3 3 0 0 1 3 3V337a3 3 0 0 1 -3 3H2348Z" fill="#f23645"/><text x="2364.49" y="330.6" fill="#ffffff" textLength="81.26" lengthAdjust="spacingAndGlyphs" font-size="24.8" >104.44</text>
<path d="M2348 357.5H2455a3 3 0 0 1 3 3V388a3 3 0 0 1 -3 3H2348Z" fill="#e60000"/><text x="2364.49" y="381.85" fill="#ffffff" textLength="81.26" lengthAdjust="spacingAndGlyphs" font-size="24.8" >103.68</text>
<path d="M2348 448H2455a3 3 0 0 1 3 3V479a3 3 0 0 1 -3 3H2348Z" fill="#434651"/><text x="2364.45" y="472.6" fill="#ffffff" textLength="82.42" lengthAdjust="spacingAndGlyphs" font-size="24.8" >102.32</text>
<path d="M2348 564H2455a3 3 0 0 1 3 3V594.5a3 3 0 0 1 -3 3H2348Z" fill="#434651"/><text x="2364.45" y="588.35" fill="#ffffff" textLength="82.42" lengthAdjust="spacingAndGlyphs" font-size="24.8" >100.59</text>
<path d="M2348 599H2455a3 3 0 0 1 3 3V629.5a3 3 0 0 1 -3 3H2348Z" fill="#089981"/><text x="2364.45" y="623.35" fill="#ffffff" textLength="82.42" lengthAdjust="spacingAndGlyphs" font-size="24.8" >100.07</text>
<path d="M2348 633.5H2439a3 3 0 0 1 3 3V663.5a3 3 0 0 1 -3 3H2348Z" fill="#434651"/><text x="2363.97" y="657.6" fill="#ffffff" textLength="67.62" lengthAdjust="spacingAndGlyphs" font-size="24.8" >99.61</text>
<path d="M2348 817H2425a3 3 0 0 1 3 3V847.5a3 3 0 0 1 -3 3H2348Z" fill="#ff6d00"/><text x="2364.2" y="842.55" fill="#ffffff" textLength="51.29" lengthAdjust="spacingAndGlyphs" font-size="24.8" >0.30</text>
<path d="M2348 851.5H2425a3 3 0 0 1 3 3V881.5a3 3 0 0 1 -3 3H2348Z" fill="#2196f3"/><text x="2364.2" y="876.8" fill="#ffffff" textLength="51.29" lengthAdjust="spacingAndGlyphs" font-size="24.8" >0.14</text>
<path d="M2348 909.5H2439a3 3 0 0 1 3 3V939.5a3 3 0 0 1 -3 3H2348Z" fill="#ff5252"/><text x="2364.19" y="934.8" fill="#ffffff" textLength="67.22" lengthAdjust="spacingAndGlyphs" font-size="24.8" >−0.16</text>
<text x="199.1" y="1074.3" fill="#131722" textLength="32.17" lengthAdjust="spacingAndGlyphs"  stroke="#131722" stroke-width="0.15">Jul</text>
<text x="437.6" y="1074.3" fill="#131722" textLength="40.97" lengthAdjust="spacingAndGlyphs"  stroke="#131722" stroke-width="0.15">Oct</text>
<text x="654.8" y="1074.3" fill="#131722" textLength="62.15" lengthAdjust="spacingAndGlyphs"  stroke="#131722" stroke-width="1.0">2023</text>
<text x="892.7" y="1074.3" fill="#131722" textLength="39.48" lengthAdjust="spacingAndGlyphs"  stroke="#131722" stroke-width="0.15">Apr</text>
<text x="1123.42" y="1074.3" fill="#131722" textLength="32.17" lengthAdjust="spacingAndGlyphs"  stroke="#131722" stroke-width="0.15">Jul</text>
<text x="1344.48" y="1074.3" fill="#131722" textLength="40.97" lengthAdjust="spacingAndGlyphs"  stroke="#131722" stroke-width="0.15">Oct</text>
<text x="1561.4" y="1074.3" fill="#131722" textLength="62.36" lengthAdjust="spacingAndGlyphs"  stroke="#131722" stroke-width="1.0">2024</text>
<text x="1799.58" y="1074.3" fill="#131722" textLength="39.48" lengthAdjust="spacingAndGlyphs"  stroke="#131722" stroke-width="0.15">Apr</text>
<text x="2030.3" y="1074.3" fill="#131722" textLength="32.17" lengthAdjust="spacingAndGlyphs"  stroke="#131722" stroke-width="0.15">Jul</text>
<text x="2251.36" y="1074.3" fill="#131722" textLength="40.97" lengthAdjust="spacingAndGlyphs"  stroke="#131722" stroke-width="0.15">Oct</text>
<g fill="#131722"><path d="M20 1116.2H35.5V1135.2H27.7V1123.5H20Z"/><circle cx="42.3" cy="1120.3" r="4.45"/><path d="M50.9 1116.2H59.2L50.9 1135.2H42.3Z"/></g>
<text x="66.9" y="1136.6" fill="#131722" textLength="147.59" lengthAdjust="spacingAndGlyphs" font-size="25.5" stroke="#131722" stroke-width="0.35">TradingView</text>
</svg>
</body></html>
